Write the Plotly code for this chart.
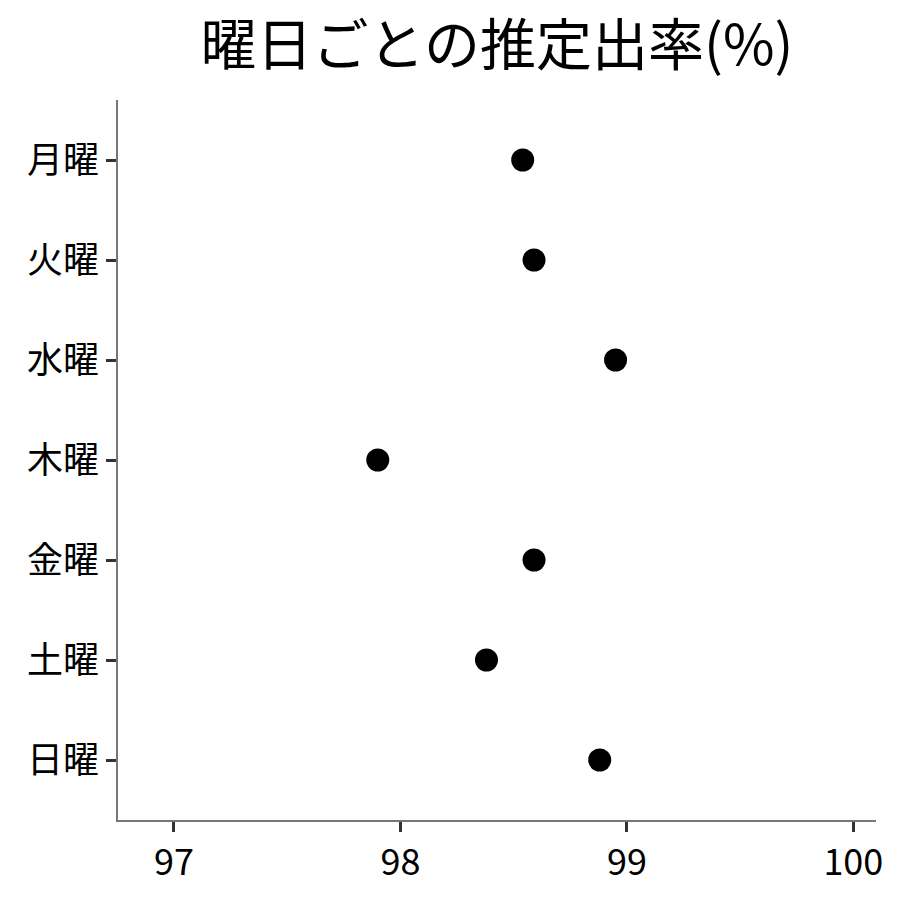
import plotly.graph_objects as go

# 曜日ごとの推定出率
youbi = ["月曜", "火曜", "水曜", "木曜", "金曜", "土曜", "日曜"]
ritsu = [98.54, 98.59, 98.95, 97.90, 98.59, 98.38, 98.88]

x_ticks = [97, 98, 99, 100]

fig = go.Figure()

fig.add_trace(go.Scatter(
    x=ritsu,
    y=youbi,
    mode="markers",
    marker=dict(color="black", size=23),
    hovertemplate="%{y}: %{x:.2f}%<extra></extra>"
))

# a página tem ~8px de margem no body, as margens compensam isso
fig.update_layout(
    width=900,
    height=900,
    paper_bgcolor="white",
    plot_bgcolor="white",
    font=dict(family="Noto Sans CJK JP", color="black"),
    title=dict(text="曜日ごとの推定出率(%)", xref="paper", x=0.5, xanchor="center",
               yref="container", y=0.959, yanchor="middle", font=dict(size=56)),
    margin=dict(l=110, r=32, t=92, b=88),
    showlegend=False,
)

fig.update_xaxes(
    range=[96.753, 100.1],
    tickvals=x_ticks,
    ticktext=[str(v) for v in x_ticks],
    showgrid=False,
    zeroline=False,
    showline=True,
    linecolor="#777777",
    linewidth=1.5,
    ticks="outside",
    ticklen=10,
    tickwidth=3,
    tickcolor="#333333",
    tickfont=dict(size=36, color="black"),
)

fig.update_yaxes(
    categoryorder="array",
    categoryarray=youbi,
    range=[6.6, -0.6],
    showgrid=False,
    zeroline=False,
    showline=True,
    linecolor="#777777",
    linewidth=1.5,
    ticks="outside",
    ticklen=10,
    tickwidth=3,
    tickcolor="#333333",
    tickfont=dict(size=36, color="black"),
)

fig.write_html("out.html")
